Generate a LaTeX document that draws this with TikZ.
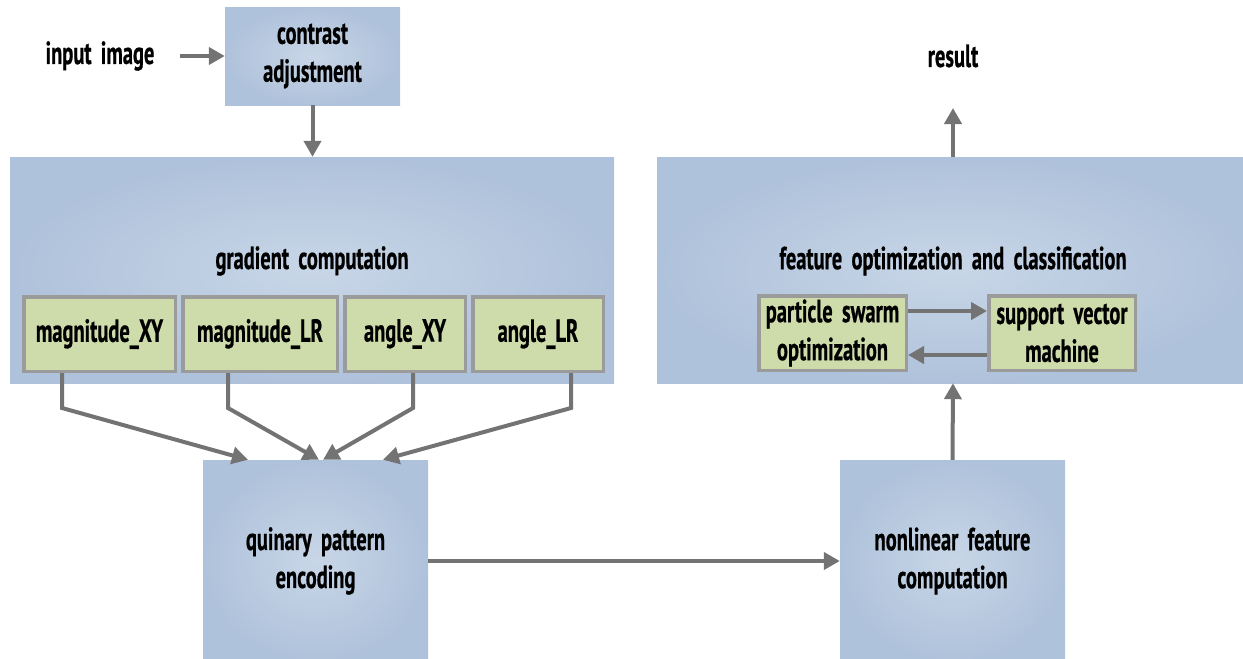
\documentclass[tikz,border=0pt]{standalone}
\usepackage{fontspec}
\setmainfont{PT Sans}[FakeStretch=0.64,WordSpace=1.8,BoldFeatures={FakeBold=0.6}]
\usetikzlibrary{arrows.meta}

\definecolor{boxblue}{HTML}{AFC2DB}
\definecolor{boxlight}{HTML}{C8D6E7}
\definecolor{boxgreen}{HTML}{CEDBAA}
\definecolor{boxgray}{HTML}{9B9B9B}
\definecolor{arrowgray}{HTML}{737373}

\begin{document}
\begin{tikzpicture}[x=1pt,y=-1pt,
    every node/.style={font=\fontsize{32}{38}\selectfont\bfseries, align=center},
    bluebox/.style={shading=radial, inner color=boxlight, outer color=boxblue, inner sep=0pt},
    greenbox/.style={fill=boxgreen, draw=boxgray, line width=3.5pt, minimum height=74.5pt, inner sep=0pt},
    arr/.style={draw=arrowgray, line width=4pt, -{Triangle[length=16pt,width=17pt]}}]

    \useasboundingbox (0,0) rectangle (1243,659);

    % left part
    \node (input) at (100,56) {input image};
    \node[bluebox, minimum width=175pt, minimum height=98pt] (contrast) at (312.5,56) {contrast\\adjustment};
    \node[bluebox, minimum width=604pt, minimum height=226pt] (gradient) at (312,270) {};
    \node (gradlabel) at (312,261) {gradient computation};
    \node[greenbox, minimum width=151.5pt] (magxy) at (99.5,334) {magnitude\_XY};
    \node[greenbox, minimum width=154.5pt] (maglr) at (260,334) {magnitude\_LR};
    \node[greenbox, minimum width=120.5pt] (anglexy) at (405,334) {angle\_XY};
    \node[greenbox, minimum width=130.5pt] (anglelr) at (538,334) {angle\_LR};
    \node[bluebox, minimum width=225pt, minimum height=202pt] (quinary) at (315.5,561) {quinary pattern\\encoding};

    % right part
    \node[bluebox, minimum width=225pt, minimum height=202pt] (nonlinear) at (952.5,561) {nonlinear feature\\computation};
    \node[bluebox, minimum width=592pt, minimum height=226pt] (feature) at (953,270) {};
    \node (featlabel) at (953,261) {feature optimization and classification};
    \node[greenbox, minimum width=147.5pt] (pso) at (832.5,333) {particle swarm\\optimization};
    \node[greenbox, minimum width=146.5pt] (svm) at (1062,333) {support vector\\machine};
    \node (result) at (953,56) {result};
    \coordinate (resultin) at ([yshift=-52pt]result.center);

    \draw[arr] ([xshift=80pt]input.center) -- (contrast.west);
    \draw[arr] (contrast.south) -- (contrast.south |- gradient.north);
    \foreach \src/\dx/\ex in {magxy/-37.5/-67.5, maglr/-32/3.5, anglexy/8/7.5, anglelr/33/67.5}
        \draw[arr] ([xshift=\dx pt]\src.south) -- ++(0,35) -- ([xshift=\ex pt]quinary.north);
    \draw[arr] (quinary.east) -- (nonlinear.west);
    \draw[arr] (nonlinear.north) -- (feature.south);
    \draw[arr] ([yshift=22pt]pso.east) -- ([yshift=22pt]svm.west);
    \draw[arr] ([yshift=-22pt]svm.west) -- ([yshift=-22pt]pso.east);
    \draw[arr] (feature.north) -- (resultin);

\end{tikzpicture}
\end{document}
